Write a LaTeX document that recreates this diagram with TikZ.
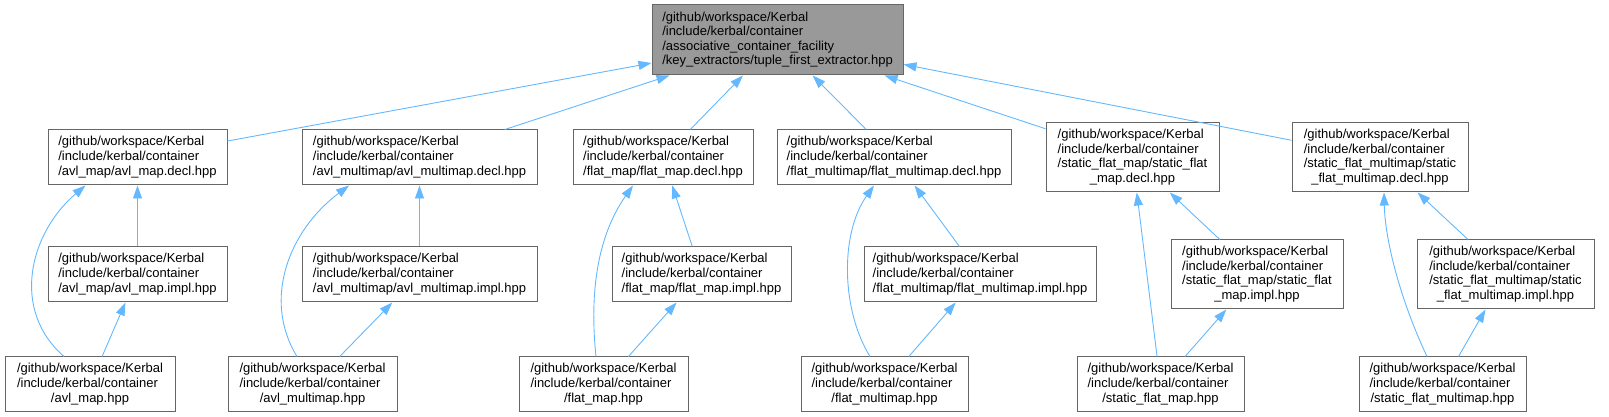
\documentclass[tikz,border=0pt]{standalone}
\usepackage{fontspec}
\setmainfont{Liberation Sans}
\usetikzlibrary{arrows.meta,positioning}
\definecolor{edgeblue}{HTML}{63B8FF}
\definecolor{boxgray}{HTML}{666666}
\definecolor{rootgray}{HTML}{999999}
\newcommand{\kerbalinc}{/github/workspace/Kerbal\\/include/kerbal/container}
\newcommand{\lastline}[1]{\multicolumn{1}{@{}c@{}}{#1}}
\newcommand{\pathtab}[1]{\begin{tabular}{@{}l@{}}#1\end{tabular}}

\begin{document}
\begin{tikzpicture}[x=1pt, y=1pt,
  box/.style={rectangle, draw=boxgray, line width=1pt, fill=white, minimum width=#1, minimum height=55pt,
    inner sep=0pt, font=\fontsize{13}{14.6}\selectfont},
  tall/.style={minimum height=69pt},
  arr/.style={-{Triangle[length=13pt, width=9pt]}, line width=0.9pt, edgeblue}
]
  \useasboundingbox (0,0) rectangle (1609,417);

  % included file
  \node[box=251, fill=rootgray, minimum height=70pt] (tfe) at (777.5,377) {\pathtab{\kerbalinc\\/associative\_container\_facility\\\lastline{/key\_extractors/tuple\_first\_extractor.hpp}}};

  % declarations
  \node[box=179] (avld) at (137.5,259.5) {\pathtab{\kerbalinc\\\lastline{/avl\_map/avl\_map.decl.hpp}}};
  \node[box=235] (avlmd) at (419.5,259.5) {\pathtab{\kerbalinc\\\lastline{/avl\_multimap/avl\_multimap.decl.hpp}}};
  \node[box=180] (flatd) at (663,259.5) {\pathtab{\kerbalinc\\\lastline{/flat\_map/flat\_map.decl.hpp}}};
  \node[box=234] (flatmd) at (894,259.5) {\pathtab{\kerbalinc\\\lastline{/flat\_multimap/flat\_multimap.decl.hpp}}};
  \node[box=173, tall] (sflatd) at (1132.5,259.5) {\pathtab{\kerbalinc\\/static\_flat\_map/static\_flat\\\lastline{\_map.decl.hpp}}};
  \node[box=176, tall] (sflatmd) at (1380,259.5) {\pathtab{\kerbalinc\\/static\_flat\_multimap/static\\\lastline{\_flat\_multimap.decl.hpp}}};

  % implementations
  \node[box=179] (avli) at (137.5,142.5) {\pathtab{\kerbalinc\\\lastline{/avl\_map/avl\_map.impl.hpp}}};
  \node[box=235] (avlmi) at (419.5,142.5) {\pathtab{\kerbalinc\\\lastline{/avl\_multimap/avl\_multimap.impl.hpp}}};
  \node[box=179] (flati) at (701.5,142.5) {\pathtab{\kerbalinc\\\lastline{/flat\_map/flat\_map.impl.hpp}}};
  \node[box=232] (flatmi) at (980,142.5) {\pathtab{\kerbalinc\\\lastline{/flat\_multimap/flat\_multimap.impl.hpp}}};
  \node[box=172, tall] (sflati) at (1257,142.5) {\pathtab{\kerbalinc\\/static\_flat\_map/static\_flat\\\lastline{\_map.impl.hpp}}};
  \node[box=177, tall] (sflatmi) at (1505.5,142.5) {\pathtab{\kerbalinc\\/static\_flat\_multimap/static\\\lastline{\_flat\_multimap.impl.hpp}}};

  % headers
  \node[box=170] (avlh) at (90,32.5) {\pathtab{\kerbalinc\\\lastline{/avl\_map.hpp}}};
  \node[box=169] (avlmh) at (312.5,32.5) {\pathtab{\kerbalinc\\\lastline{/avl\_multimap.hpp}}};
  \node[box=169] (flath) at (603.5,32.5) {\pathtab{\kerbalinc\\\lastline{/flat\_map.hpp}}};
  \node[box=167] (flatmh) at (884.5,32.5) {\pathtab{\kerbalinc\\\lastline{/flat\_multimap.hpp}}};
  \node[box=167] (sflath) at (1160.5,32.5) {\pathtab{\kerbalinc\\\lastline{/static\_flat\_map.hpp}}};
  \node[box=167] (sflatmh) at (1442.5,32.5) {\pathtab{\kerbalinc\\\lastline{/static\_flat\_multimap.hpp}}};

  % include edges
  \foreach \n in {avld,avlmd,flatd,flatmd,sflatd,sflatmd}
    \draw[arr] (\n) -- (tfe);
  \draw[arr] (avli) -- (avld);
  \draw[arr] (avlmi) -- (avlmd);
  \draw[arr] (flati) -- (flatd);
  \draw[arr] (flatmi) -- (flatmd);
  \draw[arr] (sflati) -- (sflatd);
  \draw[arr] (sflatmi) -- (sflatmd);
  \draw[arr] (avlh) -- (avli);
  \draw[arr] (avlmh) -- (avlmi);
  \draw[arr] (flath) -- (flati);
  \draw[arr] (flatmh) -- (flatmi);
  \draw[arr] (sflath) -- (sflati);
  \draw[arr] (sflatmh) -- (sflatmi);
  \draw[arr] ([xshift=-26pt]avlh.north) .. controls +(-54,47) and +(-55.5,-47) .. ([xshift=-52pt]avld.south);
  \draw[arr] ([xshift=-15.5pt]avlmh.north) .. controls +(-35,57) and +(-60,-45) .. ([xshift=-70.5pt]avlmd.south);
  \draw[arr] ([xshift=-7.5pt]flath.north) .. controls +(-6,57) and +(-38,-54) .. ([xshift=-30pt]flatd.south);
  \draw[arr] ([xshift=-14.5pt]flatmh.north) .. controls +(-29,47) and +(-34,-48) .. ([xshift=-20pt]flatmd.south);
  \draw[arr] (sflath) -- (sflatd);
  \draw[arr] ([xshift=-15.5pt]sflatmh.north) .. controls +(-27,57) and +(1,-47) .. ([xshift=4pt]sflatmd.south);
\end{tikzpicture}
\end{document}
